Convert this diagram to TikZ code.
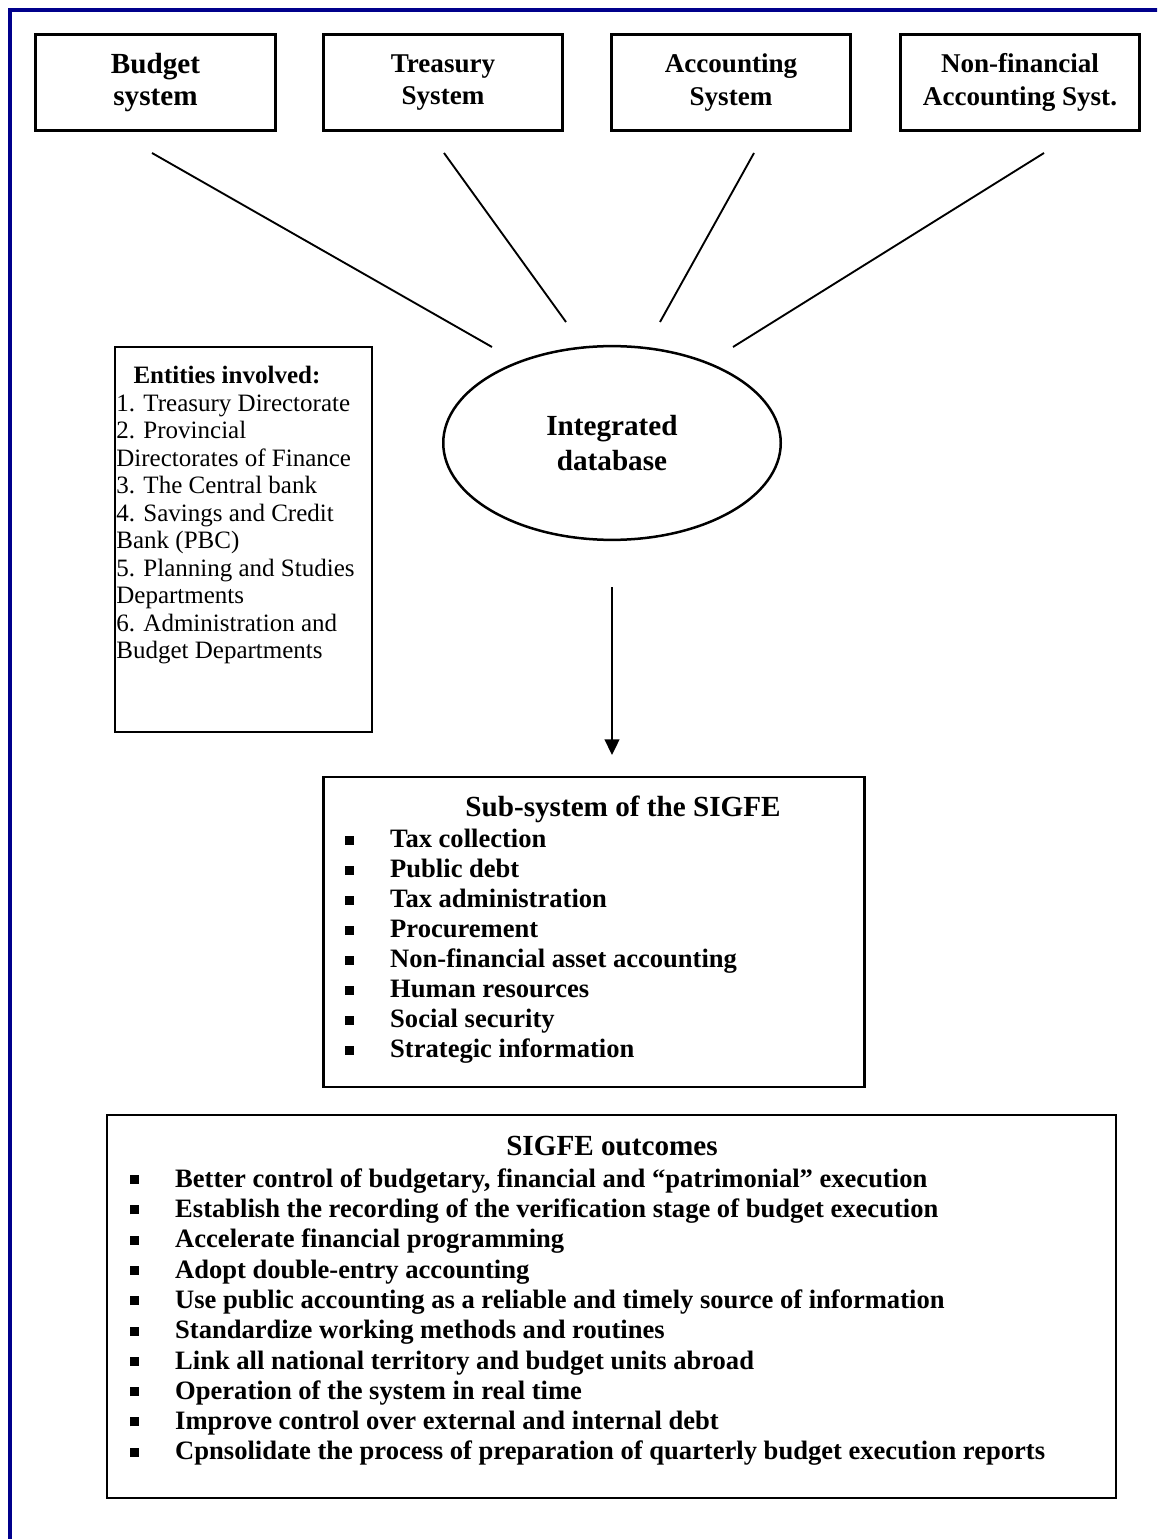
\documentclass[tikz,border=0pt]{standalone}
\usepackage{fontspec}
\setmainfont{Liberation Serif}
\usetikzlibrary{shapes.geometric,arrows.meta}
\definecolor{framec}{RGB}{0,0,140}
\newcommand{\bul}{\makebox[21.5pt][l]{\rule[0.12em]{4pt}{4.3pt}}}
\begin{document}
\begin{tikzpicture}[x=0.48pt,y=-0.48pt,
  sysbox/.style={draw, line width=1.4pt, minimum width=115pt, minimum height=46.5pt, inner sep=0pt, align=center},
  bigfont/.style={font=\bfseries\fontsize{14}{15.4}\selectfont},
  midfont/.style={font=\bfseries\fontsize{13}{15.4}\selectfont},
  thinbox/.style={draw, line width=0.9pt, inner sep=0pt},
  thickbox/.style={draw, line width=1.4pt, inner sep=0pt},
  txt/.style={inner sep=0pt, align=left, anchor=north west},
  conn/.style={line width=0.9pt}]
\useasboundingbox (0,0) rectangle (1157,1539);
\clip (0,0) rectangle (1157,1539);
\draw[framec, line width=1.8pt] (10,10) rectangle (1200,1600);

% top boxes
\node[sysbox, bigfont] (bud) at (155.5,82.5) {Budget\\system};
\node[sysbox, midfont] (tre) at (443,82.5) {Treasury\\System};
\node[sysbox, midfont] (acc) at (731,82.5) {Accounting\\System};
\node[sysbox, midfont] (nfa) at (1020,82.5) {Non-financial\\Accounting Syst.};

% integrated database
\node[draw, ellipse, line width=1.2pt, minimum width=162pt, minimum height=93pt, inner sep=0pt, align=center,
  font=\bfseries\fontsize{14}{16.8}\selectfont] (db) at (612,443) {Integrated\\database};

% connectors
\coordinate (c1a) at (152,153); \coordinate (c1b) at (492,347);
\coordinate (c2a) at (444,153); \coordinate (c2b) at (566,322);
\coordinate (c3a) at (754,153); \coordinate (c3b) at (660,322);
\coordinate (c4a) at (1044,153); \coordinate (c4b) at (733,347);
\draw[conn] (c1a) -- (c1b);
\draw[conn] (c2a) -- (c2b);
\draw[conn] (c3a) -- (c3b);
\draw[conn] (c4a) -- (c4b);

% arrow
\coordinate (ar1) at (612,587);
\coordinate (ar2) at (612,755);
\draw[line width=1.2pt, -{Triangle[length=7.5pt,width=7pt]}] (ar1) -- (ar2);

% entities
\node[thinbox, minimum width=123.4pt, minimum height=184.8pt] (ent) at (243.5,539.5) {};
\node[txt, font=\fontsize{12}{13.2}\selectfont] (enttxt) at (116,366)
{\hspace*{8.2pt}\textbf{Entities involved:}\\
1. Treasury Directorate\\
2. Provincial\\
Directorates of Finance\\
3. The Central bank\\
4. Savings and Credit\\
Bank (PBC)\\
5. Planning and Studies\\
Departments\\
6. Administration and\\
Budget Departments};

% sub-system
\node[thickbox, minimum width=260pt, minimum height=148.8pt] (sub) at (594,932) {};
\node[inner sep=0pt, font=\bfseries\fontsize{14}{15}\selectfont] (subt) at (623,809) {Sub-system of the SIGFE};
\node[txt, font=\bfseries\fontsize{12.75}{14.4}\selectfont] (subl) at (345,829)
{\bul Tax collection\\
\bul Public debt\\
\bul Tax administration\\
\bul Procurement\\
\bul Non-financial asset accounting\\
\bul Human resources\\
\bul Social security\\
\bul Strategic information};

% outcomes
\node[thinbox, minimum width=484.3pt, minimum height=183.8pt] (out) at (611.5,1306.5) {};
\node[inner sep=0pt, font=\bfseries\fontsize{14}{15}\selectfont] (outt) at (612,1146) {SIGFE outcomes};
\node[txt, font=\bfseries\fontsize{12.75}{14.55}\selectfont] (outl) at (130,1168)
{\bul Better control of budgetary, financial and ``patrimonial'' execution\\
\bul Establish the recording of the verification stage of budget execution\\
\bul Accelerate financial programming\\
\bul Adopt double-entry accounting\\
\bul Use public accounting as a reliable and timely source of information\\
\bul Standardize working methods and routines\\
\bul Link all national territory and budget units abroad\\
\bul Operation of the system in real time\\
\bul Improve control over external and internal debt\\
\bul Cpnsolidate the process of preparation of quarterly budget execution reports};
\end{tikzpicture}
\end{document}
